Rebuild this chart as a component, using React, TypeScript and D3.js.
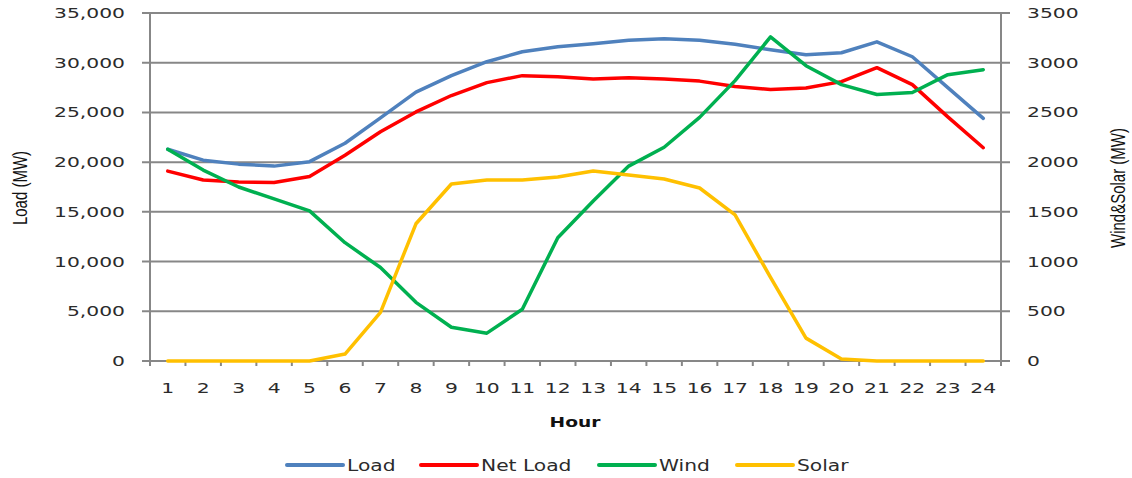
import React from "react";
import * as d3 from "d3";

const hours = [1,2,3,4,5,6,7,8,9,10,11,12,13,14,15,16,17,18,19,20,21,22,23,24];
const load = [21300,20200,19800,19600,20050,21900,24450,27050,28700,30100,31100,31600,31900,32250,32400,32250,31850,31300,30800,31000,32100,30600,27500,24400];
const netLoad = [19100,18200,18000,17950,18550,20700,23050,25050,26700,28000,28700,28600,28350,28500,28350,28150,27600,27300,27450,28100,29500,27800,24550,21450];
const wind = [2130,1920,1750,1630,1510,1190,940,590,340,280,520,1240,1610,1960,2150,2450,2820,3260,2970,2780,2680,2700,2880,2930];
const solar = [0,0,0,0,0,70,490,1380,1780,1820,1820,1850,1910,1870,1830,1740,1470,840,230,20,0,0,0,0];
const leftTicks = [0,5000,10000,15000,20000,25000,30000,35000];
const rightTicks = [0,500,1000,1500,2000,2500,3000,3500];
const seriesNames = ["Load","Net Load","Wind","Solar"];
const seriesColors = ["#4F81BD","#FF0000","#00B050","#FFC000"];

const W = 1132, H = 478;
const L = 150, R = 1001, T = 13, B = 361;
const SX = 1.45;
const FONT = "'DejaVu Sans', Verdana, sans-serif";
const GRID = "#878787";
const TXT = "#2b2b2b";

export default function App() {
  const x = d3.scaleBand<number>().domain(hours).range([L, R]).paddingInner(0).paddingOuter(0);
  const cx = (h: number) => (x(h) as number) + x.bandwidth() / 2;
  const yL = d3.scaleLinear().domain([0, 35000]).range([B, T]);
  const yR = d3.scaleLinear().domain([0, 3500]).range([B, T]);
  const fmt = d3.format(",");

  const lineL = d3.line<number>().x((_, i) => cx(hours[i])).y((d) => yL(d));
  const lineR = d3.line<number>().x((_, i) => cx(hours[i])).y((d) => yR(d));
  const paths = [lineL(load), lineL(netLoad), lineR(wind), lineR(solar)];

  const edges = hours.map((h) => x(h) as number).concat([R]);

  const legendX = [287, 421, 599, 737];

  return (
    <svg width={W} height={H} style={{ position: "absolute", left: 0, top: 0, background: "#fff" }}>
      {/* gridlines with tick extensions */}
      {leftTicks.map((t) => (
        <line key={"g" + t} x1={L - 8} x2={R + 9} y1={yL(t)} y2={yL(t)} stroke={GRID} strokeWidth={2} />
      ))}
      {/* axes */}
      <line x1={L} x2={L} y1={T} y2={B + 5} stroke={GRID} strokeWidth={2} />
      <line x1={R} x2={R} y1={T} y2={B + 5} stroke={GRID} strokeWidth={2} />
      {edges.map((e, i) => (
        <line key={"xt" + i} x1={e} x2={e} y1={B} y2={B + 5} stroke={GRID} strokeWidth={2} />
      ))}
      {/* left ticks */}
      {leftTicks.map((t) => (
        <text key={"lt" + t} transform={`translate(125,${yL(t) + 5}) scale(${SX},1)`} textAnchor="end"
          fontFamily={FONT} fontSize={14} fill={TXT}>{fmt(t)}</text>
      ))}
      {/* right ticks */}
      {rightTicks.map((t) => (
        <text key={"rt" + t} transform={`translate(1027,${yR(t) + 5}) scale(${SX},1)`} textAnchor="start"
          fontFamily={FONT} fontSize={14} fill={TXT}>{t}</text>
      ))}
      {/* x tick labels */}
      {hours.map((h) => (
        <text key={"xl" + h} transform={`translate(${cx(h)},393) scale(${SX},1)`} textAnchor="middle"
          fontFamily={FONT} fontSize={14} fill={TXT}>{h}</text>
      ))}
      {/* axis titles */}
      <text transform={`translate(575,427) scale(1.38,1)`} textAnchor="middle" fontFamily={FONT}
        fontSize={13.5} fontWeight="bold" fill="#111">Hour</text>
      <text transform={`translate(27,188) scale(1.3,1) rotate(-90)`} textAnchor="middle"
        fontFamily="'Liberation Sans Narrow', 'Liberation Sans', Arial, sans-serif" fontSize={15} fill="#111">Load (MW)</text>
      <text transform={`translate(1125,188) scale(1.3,1) rotate(-90)`} textAnchor="middle"
        fontFamily="'Liberation Sans Narrow', 'Liberation Sans', Arial, sans-serif" fontSize={15} fill="#111">Wind&amp;Solar (MW)</text>
      {/* series */}
      {paths.map((p, i) => (
        <path key={"s" + i} d={p as string} fill="none" stroke={seriesColors[i]} strokeWidth={3.5}
          strokeLinejoin="round" strokeLinecap="round" />
      ))}
      {/* legend */}
      {seriesNames.map((n, i) => (
        <g key={"lg" + i}>
          <line x1={legendX[i]} x2={legendX[i] + 56} y1={465} y2={465} stroke={seriesColors[i]} strokeWidth={4} strokeLinecap="round" />
          <text transform={`translate(${legendX[i] + 60},471) scale(1.35,1)`} fontFamily={FONT} fontSize={15} fill={TXT}>{n}</text>
        </g>
      ))}
    </svg>
  );
}
